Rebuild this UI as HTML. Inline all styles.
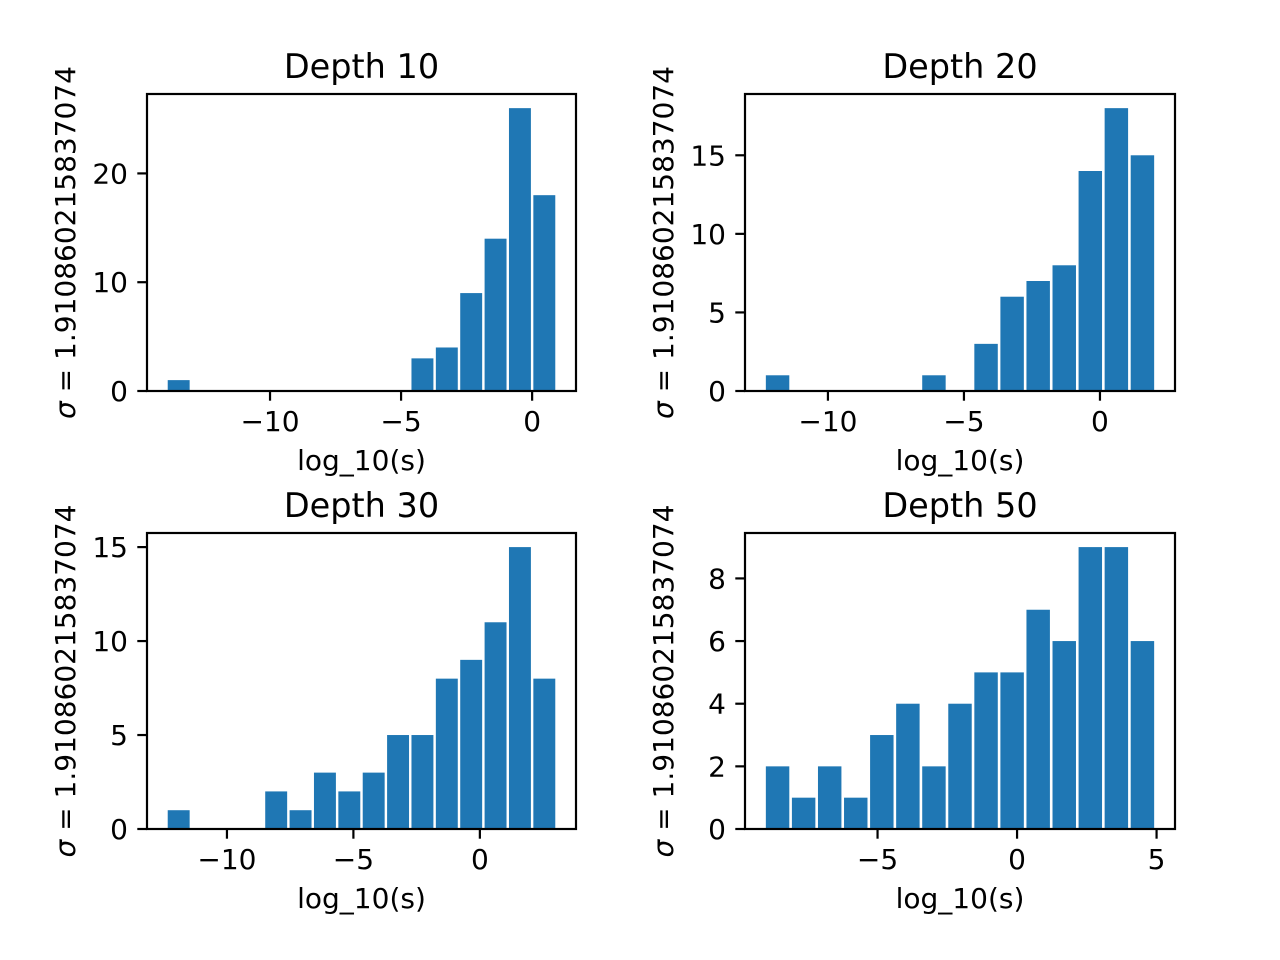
<!DOCTYPE html>
<html><head><meta charset="utf-8"><style>
html,body{margin:0;padding:0;background:#fff}
svg{display:block;font-family:"DejaVu Sans","Liberation Sans",sans-serif}
</style></head><body>
<svg id="fig" width="1280" height="960" viewBox="0 0 1280 960" xmlns="http://www.w3.org/2000/svg"></svg>
<script>
const titles = ["Depth 10","Depth 20","Depth 30","Depth 50"];
const counts10 = [1,0,0,0,0,0,0,0,0,0,3,4,9,14,26,18];
const counts20 = [1,0,0,0,0,0,1,0,3,6,7,8,14,18,15];
const counts30 = [1,0,0,0,2,1,3,2,3,5,5,8,9,11,15,8];
const counts50 = [2,1,2,1,3,4,2,4,5,5,7,6,9,9,6];
const dataRange10 = [-13.95,0.93];
const dataRange20 = [-12.33,2.04];
const dataRange30 = [-12.39,3.03];
const dataRange50 = [-9.05,4.96];
const xTicks10 = [-10,-5,0];
const xTicks20 = [-10,-5,0];
const xTicks30 = [-10,-5,0];
const xTicks50 = [-5,0,5];
const yTicks10 = [0,10,20];
const yTicks20 = [0,5,10,15];
const yTicks30 = [0,5,10,15];
const yTicks50 = [0,2,4,6,8];

const panels = [
 {id:"depth-10",title:titles[0],counts:counts10,range:dataRange10,xt:xTicks10,yt:yTicks10,box:[147,94,576,391]},
 {id:"depth-20",title:titles[1],counts:counts20,range:dataRange20,xt:xTicks20,yt:yTicks20,box:[745,94,1175,391]},
 {id:"depth-30",title:titles[2],counts:counts30,range:dataRange30,xt:xTicks30,yt:yTicks30,box:[147,533,576,829]},
 {id:"depth-50",title:titles[3],counts:counts50,range:dataRange50,xt:xTicks50,yt:yTicks50,box:[745,533,1175,829]}
];
const NS="http://www.w3.org/2000/svg";
const svg=document.getElementById('fig');
function mk(tag,attrs,parent){const e=document.createElementNS(NS,tag);for(const k in attrs)e.setAttribute(k,attrs[k]);parent.appendChild(e);return e;}
function fmt(v){return v<0?"\u2212"+Math.abs(v):String(v);}
panels.forEach(p=>{
  const [x0,y0,x1,y1]=p.box;
  const g=mk('g',{},svg);
  
  
  const [dmin,dmax]=p.range;const S=dmax-dmin;
  const xlo=dmin-0.05*S, xhi=dmax+0.05*S;
  const xs=v=>x0+(v-xlo)/(xhi-xlo)*(x1-x0);
  const ymax=Math.max(...p.counts)*1.05;
  const ys=v=>y1-v/ymax*(y1-y0);
  const n=p.counts.length, bw=S/n;
  p.counts.forEach((c,i)=>{
    if(c<=0)return;
    const a=dmin+i*bw+0.05*bw,b=a+0.9*bw;
    const r=mk('rect',{x:xs(a),y:ys(c),width:xs(b)-xs(a),height:ys(0)-ys(c),fill:'#1f77b4'},g);
    
    
  });
  const fr=mk('rect',{x:x0,y:y0,width:x1-x0,height:y1-y0,fill:'none',stroke:'#000','stroke-width':2.2},g);
  
  
  p.xt.forEach(t=>{
    const x=xs(t);
    mk('line',{x1:x,y1:y1,x2:x,y2:y1+9.7,stroke:'#000','stroke-width':2.2},g);
    const tx=mk('text',{x:x,y:y1+40,'font-size':28,'text-anchor':'middle'},g);
    tx.textContent=fmt(t);
    
    
  });
  p.yt.forEach(t=>{
    const y=ys(t);
    mk('line',{x1:x0-9.7,y1:y,x2:x0,y2:y,stroke:'#000','stroke-width':2.2},g);
    const tx=mk('text',{x:x0-19,y:y+10,'font-size':28,'text-anchor':'end'},g);
    tx.textContent=fmt(t);
    
    
  });
  const cx=(x0+x1)/2, cy=(y0+y1)/2;
  const ti=mk('text',{x:cx,y:y0-16,'font-size':33.5,'text-anchor':'middle'},g);
  ti.textContent=p.title;
  
  
  const xl=mk('text',{x:cx,y:y1+79,'font-size':28,'text-anchor':'middle'},g);
  xl.textContent="log_10(s)";
  
  
  const yl=mk('text',{x:0,y:0,'font-size':28,'text-anchor':'middle',transform:`translate(${x0-72},${cy}) rotate(-90)`},g);
  
  
  const s1=mk('tspan',{'font-style':'italic'},yl);s1.textContent="\u03c3";
  const s2=mk('tspan',{},yl);s2.textContent=" = 1.910860215837074";
});
</script>
</body></html>
